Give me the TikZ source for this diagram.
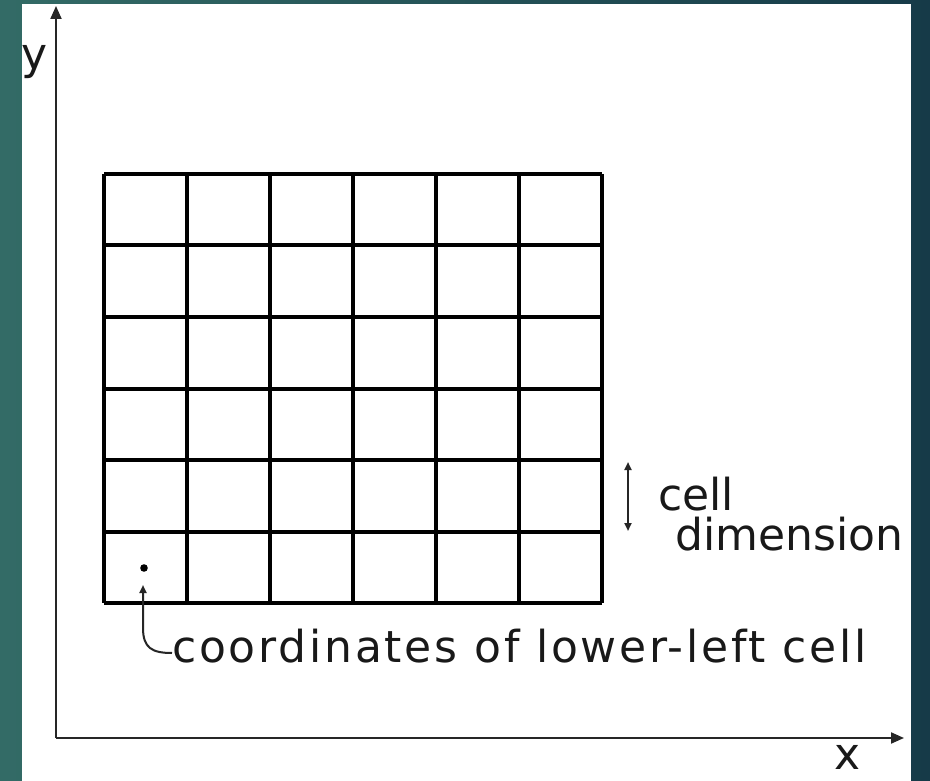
\documentclass[tikz,border=0pt]{standalone}
\usepackage{fontspec}
\setmainfont{DejaVu Sans}
\newfontfamily\spacedfont[LetterSpace=6.3]{DejaVu Sans}
\usetikzlibrary{arrows.meta}
\definecolor{bgleft}{RGB}{51,107,102}
\definecolor{bgright}{RGB}{22,58,72}
\tikzset{
  gridline/.style={line width=4pt, black},
  axis/.style={line width=2pt, black!85, -{Triangle[length=13pt,width=11pt]}},
  lbl/.style={inner sep=0pt, anchor=base west, font=\fontsize{44}{46}\selectfont, text=black!90},
}
\begin{document}
\begin{tikzpicture}[x=1pt,y=-1pt]
\useasboundingbox (0,0) rectangle (930,781);
\shade[left color=bgleft, right color=bgright] (0,0) rectangle (930,781);
\fill[white] (22,4) rectangle (911,781);
% axes
\coordinate (O) at (56,738);
\coordinate (ytip) at (56,6);
\coordinate (xtip) at (904,738);
\draw[axis] (O) -- (ytip);
\draw[axis] (O) -- (xtip);
\node[inner sep=0pt, font=\fontsize{44}{46}\selectfont, text=black!90] (ylab) at (35,62) {y};
\node[inner sep=0pt, font=\fontsize{44}{46}\selectfont, text=black!90] (xlab) at (848,757) {x};
% grid
\foreach \i in {0,...,6} {
  \draw[gridline] (104+83*\i,174) -- (104+83*\i,603);
  \draw[gridline] (104,174+71.5*\i) -- (602,174+71.5*\i);
}
% dot and label
\fill (144,568) circle (3.8pt) coordinate (dot);
\coordinate (atip) at (143,585);
\node[lbl, font=\fontsize{44}{46}\spacedfont] (coord) at (172,662) {coordinates of lower-left cell};
\draw[line width=2pt, black!85, {Triangle[length=8pt,width=7pt]}-] (atip) -- (143,628) .. controls (143,648) and (152,653) .. (coord.base west |- 0,653);
% cell dimension
\coordinate (dtop) at (628,462);
\coordinate (dbot) at (628,531);
\draw[line width=2pt, black!85, {Triangle[length=8pt,width=7pt]}-{Triangle[length=8pt,width=7pt]}] (dtop) -- (dbot);
\node[lbl] (cell) at (658,510) {cell};
\node[lbl] (dim) at (675,550) {dimension};
\end{tikzpicture}
\end{document}
